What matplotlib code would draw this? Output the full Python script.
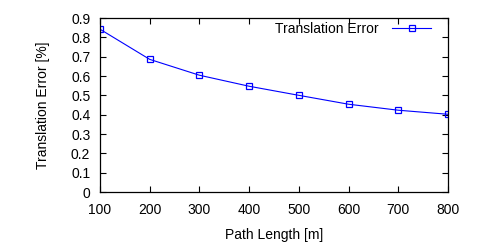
import matplotlib
matplotlib.use("Agg")
import matplotlib.pyplot as plt

path_length = [100, 200, 300, 400, 500, 600, 700, 800]
translation_error = [0.842, 0.686, 0.604, 0.547, 0.500, 0.454, 0.423, 0.402]
y_ticks = [0, 0.1, 0.2, 0.3, 0.4, 0.5, 0.6, 0.7, 0.8, 0.9]
y_tick_labels = ["0", "0.1", "0.2", "0.3", "0.4", "0.5", "0.6", "0.7", "0.8", "0.9"]
x_ticks = [100, 200, 300, 400, 500, 600, 700, 800]

plt.rcParams['font.family'] = ['Liberation Sans', 'DejaVu Sans']
plt.rcParams['font.size'] = 10

fig = plt.figure(figsize=(5, 2.5), dpi=100)
ax = fig.add_axes([0.2, 0.232, 0.696, 0.696])

ax.plot(path_length, translation_error, color='#0000ff', linewidth=0.8,
        marker='s', markersize=4.5, markerfacecolor='none',
        markeredgecolor='#0000ff', markeredgewidth=0.9,
        label='Translation Error')

ax.set_xlim(100, 800)
ax.set_ylim(0, 0.9)
ax.set_xticks(x_ticks)
ax.set_yticks(y_ticks)
ax.set_yticklabels(y_tick_labels)
ax.tick_params(direction='in', top=True, right=True, length=4, width=0.8,
               pad=7, labelsize=10)
ax.tick_params(axis='x', pad=8)
for s in ax.spines.values():
    s.set_linewidth(0.9)

ax.set_xlabel('Path Length [m]', fontsize=10, labelpad=8)
ax.set_ylabel('Translation Error [%]', fontsize=10, labelpad=15)

leg = ax.legend(loc='upper right', bbox_to_anchor=(0.97, 1.015),
                frameon=False, markerfirst=False,
                handlelength=2.75, borderaxespad=0.1, handletextpad=1.0,
                fontsize=10)

fig.savefig('out.png', dpi=100)
